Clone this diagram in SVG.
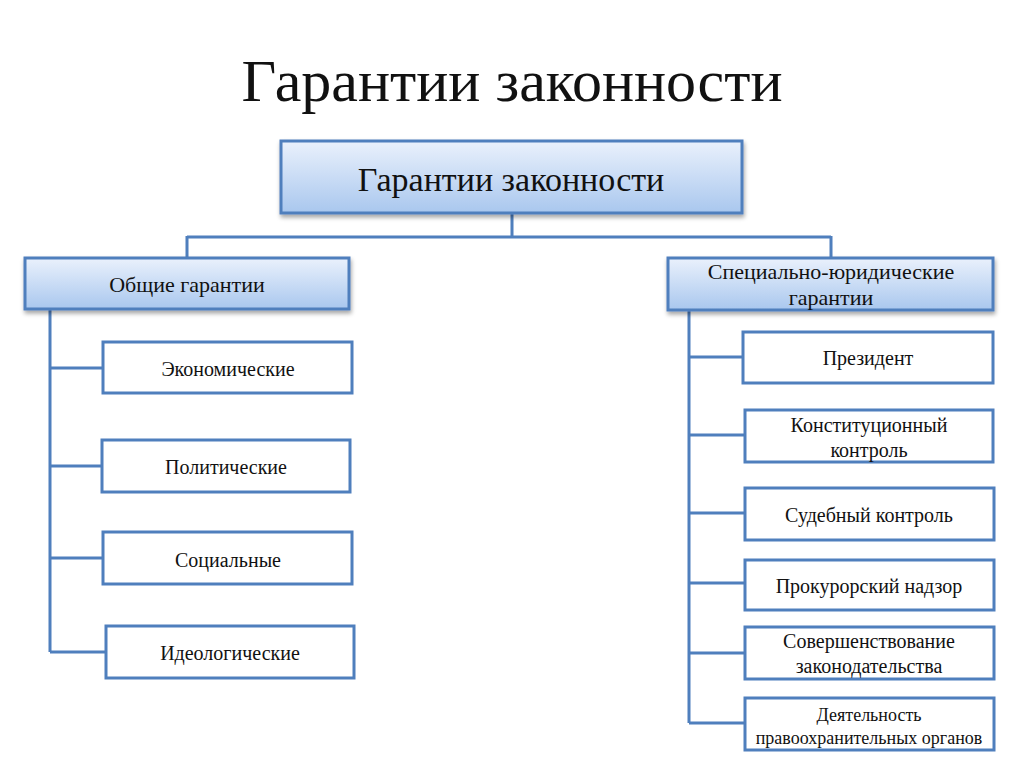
<svg xmlns="http://www.w3.org/2000/svg" width="1024" height="767" viewBox="0 0 1024 767">
<defs>
<linearGradient id="g" x1="0" y1="0" x2="0" y2="1">
<stop offset="0" stop-color="#eaf1fc"/>
<stop offset="1" stop-color="#a9c7ee"/>
</linearGradient>
<filter id="sh" x="-10%" y="-20%" width="120%" height="150%">
<feDropShadow dx="1" dy="3" stdDeviation="2" flood-color="#000" flood-opacity="0.35"/>
</filter>
</defs>
<style>
.hd{fill:url(#g);stroke:#4f7fbd;stroke-width:3;filter:url(#sh)}
.bx{fill:#fff;stroke:#4f7fbd;stroke-width:3}
.ln{stroke:#4f7fbd;stroke-width:3;fill:none}
text{font-family:"Liberation Serif","Times New Roman",serif;fill:#111;text-anchor:middle}
.c{font-size:20px}
</style>
<rect width="1024" height="767" fill="#fff"/>
<text x="512" y="101" font-size="60">Гарантии законности</text>
<g id="connectors">
<path class="ln" d="M512 213V237M187 237H831M187 236V258M831 236V258"/>
<path class="ln" d="M50 309V652M50 368H103M50 466H102M50 558H103M50 652H106"/>
<path class="ln" d="M689 310V723M689 357H743M689 435H745M689 513H745M689 583H745M689 653H745M689 723H745"/>
</g>
<g id="root"><rect class="hd" x="281" y="141" width="461" height="72"/><text x="511" y="191" font-size="34">Гарантии законности</text></g>
<g id="general"><rect class="hd" x="25" y="258" width="324" height="51"/><text x="187" y="292" font-size="22">Общие гарантии</text></g>
<g id="special"><rect class="hd" x="668" y="258" width="325" height="52"/><text x="831" y="279" font-size="22">Специально-юридические</text><text x="831" y="305" font-size="22">гарантии</text></g>
<g id="econ"><rect class="bx" x="103" y="342" width="249" height="51"/><text class="c" x="228" y="376">Экономические</text></g>
<g id="polit"><rect class="bx" x="102" y="440" width="248" height="52"/><text class="c" x="226" y="474">Политические</text></g>
<g id="social"><rect class="bx" x="103" y="532" width="249" height="52"/><text class="c" x="228" y="567">Социальные</text></g>
<g id="ideo"><rect class="bx" x="106" y="626" width="248" height="52"/><text class="c" x="230" y="660">Идеологические</text></g>
<g id="president"><rect class="bx" x="743" y="332" width="250" height="51"/><text class="c" x="868" y="365">Президент</text></g>
<g id="const"><rect class="bx" x="745" y="410" width="248" height="52"/><text class="c" x="869" y="432">Конституционный</text><text class="c" x="869" y="457">контроль</text></g>
<g id="court"><rect class="bx" x="745" y="488" width="249" height="52"/><text class="c" x="869" y="522">Судебный контроль</text></g>
<g id="prosec"><rect class="bx" x="745" y="560" width="249" height="50"/><text class="c" x="869" y="593">Прокурорский надзор</text></g>
<g id="legis"><rect class="bx" x="745" y="627" width="249" height="52"/><text class="c" x="869" y="648">Совершенствование</text><text class="c" x="869" y="673">законодательства</text></g>
<g id="law"><rect class="bx" x="745" y="698" width="249" height="52"/><text x="869" y="721" font-size="18">Деятельность</text><text x="869" y="744" font-size="18">правоохранительных органов</text></g>
</svg>
